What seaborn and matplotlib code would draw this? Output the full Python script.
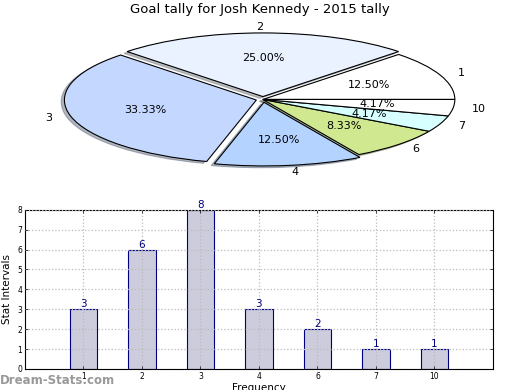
import matplotlib
matplotlib.use("Agg")
import matplotlib.pyplot as plt
import seaborn as sns
import pandas as pd

categories = ["1", "2", "3", "4", "6", "7", "10"]
counts = [3, 6, 8, 3, 2, 1, 1]
pie_colors = ["#ffffff", "#eaf1ff", "#c4d8ff", "#b4d4ff", "#d0e890", "#d8ffff", "#ffffff"]
explode = [0, 0.045, 0.035, 0.045, 0, 0, 0]

sns.set_theme(style="white")
plt.rcParams['font.family'] = ['DejaVu Sans']
plt.rcParams['text.color'] = 'black'
plt.rcParams['axes.labelcolor'] = 'black'
plt.rcParams['xtick.color'] = 'black'
plt.rcParams['ytick.color'] = 'black'

fig = plt.figure(figsize=(5.2, 3.9), dpi=100)

# Pie
ax1 = fig.add_axes([0.044, 0.541, 0.923, 0.408])
wedges, texts, autotexts = ax1.pie(
    counts, labels=categories, colors=pie_colors, explode=explode,
    autopct="%.2f%%", startangle=0, counterclock=True,
    shadow=dict(ox=-0.012, oy=-0.02, shade=0.5),
    wedgeprops=dict(edgecolor="black", linewidth=0.8),
    textprops=dict(fontsize=8, color="black"))
ax1.set_aspect('auto')
ax1.set_xlim(-1.25, 1.25)
ax1.set_ylim(-1.25, 1.25)
fig.text(0.5, 0.975, "Goal tally for Josh Kennedy - 2015 tally", ha="center", va="center",
         fontsize=9.5, color="black")

# Bars
ax2 = fig.add_axes([0.048, 0.054, 0.9, 0.408])
df = pd.DataFrame({"cat": categories, "val": counts})
sns.barplot(data=df, x="cat", y="val", ax=ax2, color="#ccccdd", saturation=1,
            width=0.47, edgecolor="#000080", linewidth=0.8, order=categories)
for i, v in enumerate(counts):
    ax2.text(i, v, str(v), ha="center", va="bottom", color="#000080", fontsize=7.5)
ax2.set_xlim(-1, 7)
ax2.set_ylim(0, 8)
ax2.set_yticks(range(0, 9))
ax2.set_xlabel("Frequency", fontsize=7.5, labelpad=2)
ax2.set_ylabel("Stat Intervals", fontsize=7.5, labelpad=4)
ax2.tick_params(axis="both", labelsize=5.5, direction="in", length=2, width=0.5,
                top=True, right=True, bottom=True, left=True, pad=2, colors="black")
ax2.grid(True, linestyle=":", color="#bbbbbb", linewidth=0.9)
ax2.set_axisbelow(False)
for p in ax2.patches:
    p.set_zorder(1)
for s in ax2.spines.values():
    s.set_color("black")
    s.set_linewidth(0.8)

fig.text(0.0, 0.025, "Dream-Stats.com", color="#999999", fontsize=8.5, fontweight="bold", ha="left", va="center")

fig.savefig("out.png", dpi=100)
